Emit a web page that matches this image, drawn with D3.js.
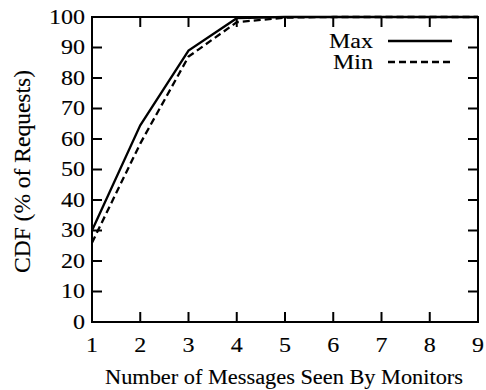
<!DOCTYPE html>
<html>
<head>
<meta charset="utf-8">
<script src="https://cdn.jsdelivr.net/npm/d3@7"></script>
<style>
  html, body { margin: 0; padding: 0; background: #fff; }
  svg { display: block; }
  text { font-family: "Liberation Serif", "Times New Roman", serif; fill: #000; stroke: #000; stroke-width: 0.12px; }
</style>
</head>
<body>
<script>
// ---- data ----
const messages = [1, 2, 3, 4, 5, 6, 7, 8, 9];
const maxCdf = [30, 64.5, 89, 99.6, 100, 100, 100, 100, 100];
const minCdf = [26, 58.5, 87, 98.3, 99.8, 100, 100, 100, 100];
const xTicks = [1, 2, 3, 4, 5, 6, 7, 8, 9];
const yTicks = [0, 10, 20, 30, 40, 50, 60, 70, 80, 90, 100];
const seriesNames = ["Max", "Min"];
const xTitle = "Number of Messages Seen By Monitors";
const yTitle = "CDF (% of Requests)";

// ---- layout ----
const W = 486, H = 390;
const L = 92, R = 478, T = 17, B = 322;
const FS = 20, SX = 1.2, TICK = 10;

const svg = d3.select("body").append("svg").attr("width", W).attr("height", H);

const x = d3.scaleLinear().domain([1, 9]).range([L, R]);
const y = d3.scaleLinear().domain([0, 100]).range([B, T]);

function stretchText(sel, px, py, anchor, str) {
  return sel.append("text")
    .attr("transform", `translate(${px},${py}) scale(${SX},1)`)
    .attr("text-anchor", anchor)
    .attr("font-size", FS)
    .text(str);
}

// inward ticks on all sides (gnuplot style)
const g = svg.append("g").attr("stroke", "#000").attr("stroke-width", 2);
xTicks.forEach(t => {
  if (t === 1 || t === 9) return;
  g.append("line").attr("x1", x(t)).attr("x2", x(t)).attr("y1", B).attr("y2", B - TICK);
  g.append("line").attr("x1", x(t)).attr("x2", x(t)).attr("y1", T).attr("y2", T + TICK);
});
yTicks.forEach(t => {
  if (t === 0 || t === 100) return;
  g.append("line").attr("x1", L).attr("x2", L + TICK).attr("y1", y(t)).attr("y2", y(t));
  g.append("line").attr("x1", R).attr("x2", R - TICK).attr("y1", y(t)).attr("y2", y(t));
});

// tick labels
xTicks.forEach(t => stretchText(svg, x(t), B + 30, "middle", d3.format("d")(t)));
yTicks.forEach(t => stretchText(svg, L - 7, y(t) + 6.5, "end", d3.format("d")(t)));

// axis titles
svg.append("text")
  .attr("x", (L + R) / 2 - 1).attr("y", 384)
  .attr("text-anchor", "middle").attr("font-size", FS)
  .attr("textLength", 358).attr("lengthAdjust", "spacingAndGlyphs")
  .text(xTitle);
svg.append("text")
  .attr("transform", `translate(30,${(T + B) / 2 + 2}) scale(1.2,1) rotate(-90)`)
  .attr("text-anchor", "middle").attr("font-size", FS)
  .attr("textLength", 203).attr("lengthAdjust", "spacingAndGlyphs")
  .text(yTitle);

// lines
const line = d3.line().x((d, i) => x(messages[i])).y(d => y(d));
svg.append("path").datum(maxCdf).attr("d", line)
  .attr("fill", "none").attr("stroke", "#000").attr("stroke-width", 2.3);
svg.append("path").datum(minCdf).attr("d", line)
  .attr("fill", "none").attr("stroke", "#000").attr("stroke-width", 2.3)
  .attr("stroke-dasharray", "7,4");

// frame
svg.append("rect").attr("x", L).attr("y", T).attr("width", R - L).attr("height", B - T)
  .attr("fill", "none").attr("stroke", "#000").attr("stroke-width", 2);

// legend
const legY = [41, 62];
seriesNames.forEach((name, i) => {
  stretchText(svg, 373, legY[i] + 6.5, "end", name);
  const ln = svg.append("line").attr("x1", 388).attr("x2", 452)
    .attr("y1", legY[i]).attr("y2", legY[i])
    .attr("stroke", "#000").attr("stroke-width", 2.3);
  if (i === 1) ln.attr("stroke-dasharray", "7,4");
});
</script>
</body>
</html>
